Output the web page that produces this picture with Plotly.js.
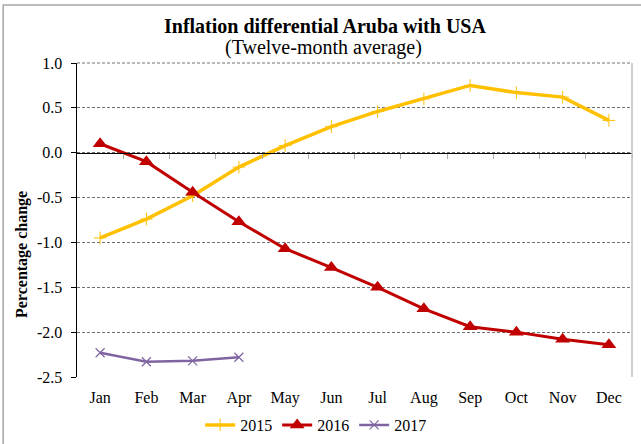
<!DOCTYPE html>
<html>
<head>
<meta charset="utf-8">
<script src="https://cdn.plot.ly/plotly-3.0.1.min.js"></script>
<style>html,body{margin:0;padding:0;background:#fff;}#chart{width:641px;height:444px;}</style>
</head>
<body>
<div id="chart"></div>
<script>
const months = ["Jan","Feb","Mar","Apr","May","Jun","Jul","Aug","Sep","Oct","Nov","Dec"];
const v2015 = [-0.95,-0.74,-0.48,-0.16,0.08,0.29,0.46,0.60,0.75,0.67,0.62,0.36];
const v2016 = [0.10,-0.10,-0.44,-0.77,-1.07,-1.28,-1.50,-1.74,-1.94,-2.00,-2.08,-2.14];
const v2017 = [-2.23,-2.33,-2.32,-2.28];
const months2017 = months.slice(0, 4);
const yTicks = [1.0,0.5,0.0,-0.5,-1.0,-1.5,-2.0,-2.5];
const yTickLabels = ["1.0","0.5","0.0","-0.5","-1.0","-1.5","-2.0","-2.5"];
const boundaryTicks = [0.5,1.5,2.5,3.5,4.5,5.5,6.5,7.5,8.5,9.5,10.5,11.5];

const serif = "Liberation Serif, Times New Roman, serif";

const traces = [
  {x: months, y: v2015, name: "2015", type: "scatter", mode: "lines+markers",
   line: {color: "#FFC000", width: 3.5},
   marker: {symbol: "cross-thin", size: 9, line: {color: "#FFC000", width: 1}, color: "#FFC000"}},
  {x: months, y: v2016, name: "2016", type: "scatter", mode: "lines+markers",
   line: {color: "#C00000", width: 3},
   marker: {symbol: "triangle-up", size: 13, color: "#C00000"}},
  {x: months2017, y: v2017, name: "2017", type: "scatter", mode: "lines+markers",
   line: {color: "#8064A2", width: 2.5},
   marker: {symbol: "x-thin", size: 9, line: {color: "#8064A2", width: 1.2}, color: "#8064A2"}},
  {x: [], y: [], xaxis: "x2", yaxis: "y", showlegend: false, hoverinfo: "skip", type: "scatter", mode: "lines"}
];

const layout = {
  width: 641, height: 444,
  margin: {l: 77, r: 9, t: 63, b: 67, autoexpand: false},
  paper_bgcolor: "#fff", plot_bgcolor: "#fff",
  font: {family: serif, size: 16, color: "#000"},
  showlegend: true,
  legend: {orientation: "h", x: 0.43, xanchor: "center", y: -0.153, yanchor: "middle",
           font: {family: serif, size: 16}, tracegroupgap: 0, itemwidth: 30},
  xaxis: {type: "category", categoryorder: "array", categoryarray: months,
          range: [-0.5, 11.5], showgrid: false, zeroline: false, showline: false,
          ticks: "", ticklabelstandoff: 9, tickfont: {family: serif, size: 16}, fixedrange: true},
  xaxis2: {overlaying: "x", anchor: "free", position: 2.5 / 3.5, type: "linear",
           range: [-0.5, 11.5], tickmode: "array", tickvals: boundaryTicks,
           showticklabels: false, ticks: "outside", ticklen: 5, tickcolor: "#aaa",
           showline: true, linecolor: "#000", linewidth: 1.5, showgrid: false, zeroline: false},
  yaxis: {range: [-2.5, 1.0], tickmode: "array", tickvals: yTicks, ticktext: yTickLabels,
          showgrid: true, gridcolor: "#707070", griddash: "3px,2px", gridwidth: 1,
          zeroline: false, showline: true, linecolor: "#000", linewidth: 1.5,
          ticks: "outside", ticklen: 5, tickcolor: "#000", ticklabelstandoff: 5,
          tickfont: {family: serif, size: 16}},
  shapes: [
    {type: "line", xref: "paper", yref: "paper", x0: 0, x1: 1, y0: 1, y1: 1,
     line: {color: "#707070", width: 1, dash: "3px,2px"}},
    {type: "line", xref: "paper", yref: "paper", x0: 1, x1: 1, y0: 0, y1: 1,
     line: {color: "#bfbfbf", width: 1.5}},
    {type: "rect", xref: "paper", yref: "paper", x0: -0.133, x1: 2, y0: -1, y1: 1.185,
     line: {color: "#a6a6a6", width: 1.5}, layer: "below"}
  ],
  annotations: [
    {text: "<b>Inflation differential Aruba with USA</b>", xref: "paper", yref: "paper",
     x: (325 - 77) / 555, y: (377 - 26) / 314, xanchor: "center", yanchor: "middle",
     showarrow: false, font: {family: serif, size: 20}},
    {text: "(Twelve-month average)", xref: "paper", yref: "paper",
     x: (323 - 77) / 555, y: (377 - 48) / 314, xanchor: "center", yanchor: "middle",
     showarrow: false, font: {family: serif, size: 20}},
    {text: "<b>Percentage change</b>", xref: "paper", yref: "paper",
     x: (22 - 77) / 555, y: (377 - 255) / 314, xanchor: "center", yanchor: "middle",
     textangle: -90, showarrow: false, font: {family: serif, size: 16}}
  ]
};

Plotly.newPlot("chart", traces, layout, {displayModeBar: false, staticPlot: true});
</script>
</body>
</html>
